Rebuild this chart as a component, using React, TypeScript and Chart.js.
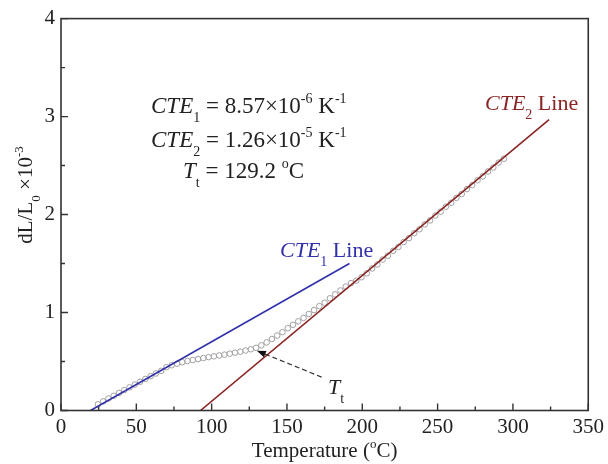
import { useEffect, useRef } from "react";
import { Chart, registerables } from "chart.js";

Chart.register(...registerables);

const SERIF = "'Liberation Serif', 'Times New Roman', serif";

// Measured dilatometry points (temperature in °C, dL/L0 ×10^-3)
const tempC = [
  24.5, 28, 31.5, 35, 38.5, 42, 45.5, 49, 52.5, 56, 59.5, 63, 66.5, 70, 73.5, 77,
  80.5, 84, 87.5, 91, 94.5, 98, 101.5, 105, 108.5, 112, 115.5, 119, 122.5, 126,
  129.5, 133, 136.5, 140, 143.5, 147, 150.5, 154, 157.5, 161, 164.5, 168, 171.5,
  175, 178.5, 182, 185.5, 189, 192.5, 196, 199.5, 203, 206.5, 210, 213.5, 217,
  220.5, 224, 227.5, 231, 234.5, 238, 241.5, 245, 248.5, 252, 255.5, 259, 262.5,
  266, 269.5, 273, 276.5, 280, 283.5, 287, 290.5, 294,
];
const dlL0 = [
  0.063, 0.093, 0.122, 0.15, 0.179, 0.208, 0.236, 0.265, 0.293, 0.322, 0.35, 0.378,
  0.405, 0.442, 0.462, 0.478, 0.493, 0.505, 0.515, 0.525, 0.535, 0.545, 0.553,
  0.562, 0.57, 0.58, 0.59, 0.6, 0.612, 0.625, 0.64, 0.665, 0.695, 0.73, 0.765, 0.8,
  0.84, 0.875, 0.91, 0.945, 0.985, 1.025, 1.065, 1.1, 1.145, 1.185, 1.225, 1.265,
  1.3, 1.325, 1.36, 1.4, 1.45, 1.49, 1.54, 1.58, 1.63, 1.67, 1.72, 1.76, 1.81, 1.85,
  1.9, 1.94, 1.99, 2.03, 2.08, 2.12, 2.17, 2.21, 2.26, 2.3, 2.35, 2.39, 2.44, 2.48,
  2.53, 2.57,
];

// Fitted lines (endpoints)
const cte1LineX = [19.6, 191.5];
const cte1LineY = [0, 1.5];
const cte2LineX = [92.6, 324];
const cte2LineY = [0, 2.97];

// Axes
const xTicks = [0, 50, 100, 150, 200, 250, 300, 350];
const xMinor = [25, 75, 125, 175, 225, 275, 325];
const yTicks = [0, 1, 2, 3, 4];
const yMinor = [0.5, 1.5, 2.5, 3.5];

// Annotation anchor points (data coordinates)
const ttArrowFrom = { x: 173, y: 0.341 };
const ttArrowTo = { x: 130, y: 0.61 };

const BLUE = "rgb(48,48,170)";
const RED = "rgb(138,36,36)";
const AXIS = "#333";
const TEXT = "#222";

type Seg = { t: string; i?: boolean; sub?: boolean; sup?: boolean };

function drawRich(
  ctx: CanvasRenderingContext2D,
  x: number,
  y: number,
  segs: Seg[],
  size: number,
  color: string,
  align: "left" | "center" = "left"
) {
  const fontFor = (s: Seg) =>
    `${s.i ? "italic " : ""}${s.sub || s.sup ? Math.round(size * 0.62) : size}px ${SERIF}`;
  let total = 0;
  for (const s of segs) {
    ctx.font = fontFor(s);
    total += ctx.measureText(s.t).width;
  }
  let cx = align === "center" ? x - total / 2 : x;
  ctx.fillStyle = color;
  ctx.textAlign = "left";
  ctx.textBaseline = "alphabetic";
  for (const s of segs) {
    ctx.font = fontFor(s);
    const dy = s.sub ? size * 0.4 : s.sup ? -size * 0.42 : 0;
    ctx.fillText(s.t, cx, y + dy);
    cx += ctx.measureText(s.t).width;
  }
}

const decorPlugin = {
  id: "decor",
  afterDraw(chart: any) {
    const ctx: CanvasRenderingContext2D = chart.ctx;
    const xs = chart.scales.x;
    const ys = chart.scales.y;
    const { left, right, top, bottom } = chart.chartArea;
    const px = (v: number) => xs.getPixelForValue(v);
    const py = (v: number) => ys.getPixelForValue(v);
    ctx.save();

    // frame
    ctx.strokeStyle = AXIS;
    ctx.lineWidth = 1.6;
    ctx.strokeRect(left, top, right - left, bottom - top);

    // inward ticks
    ctx.lineWidth = 1.4;
    ctx.beginPath();
    for (const v of xTicks) {
      ctx.moveTo(px(v), bottom);
      ctx.lineTo(px(v), bottom - 7);
    }
    for (const v of xMinor) {
      ctx.moveTo(px(v), bottom);
      ctx.lineTo(px(v), bottom - 4);
    }
    for (const v of yTicks) {
      ctx.moveTo(left, py(v));
      ctx.lineTo(left + 7, py(v));
    }
    for (const v of yMinor) {
      ctx.moveTo(left, py(v));
      ctx.lineTo(left + 4, py(v));
    }
    ctx.stroke();

    // Tt dashed arrow
    const ax0 = px(ttArrowFrom.x), ay0 = py(ttArrowFrom.y);
    const ax1 = px(ttArrowTo.x), ay1 = py(ttArrowTo.y);
    const ang = Math.atan2(ay1 - ay0, ax1 - ax0);
    const headLen = 9;
    ctx.strokeStyle = "#333";
    ctx.lineWidth = 1.2;
    ctx.setLineDash([5, 3]);
    ctx.beginPath();
    ctx.moveTo(ax0, ay0);
    ctx.lineTo(ax1 - Math.cos(ang) * headLen, ay1 - Math.sin(ang) * headLen);
    ctx.stroke();
    ctx.setLineDash([]);
    ctx.fillStyle = "#111";
    ctx.beginPath();
    ctx.moveTo(ax1, ay1);
    ctx.lineTo(
      ax1 - Math.cos(ang) * headLen + Math.sin(ang) * 3.5,
      ay1 - Math.sin(ang) * headLen - Math.cos(ang) * 3.5
    );
    ctx.lineTo(
      ax1 - Math.cos(ang) * headLen - Math.sin(ang) * 3.5,
      ay1 - Math.sin(ang) * headLen + Math.cos(ang) * 3.5
    );
    ctx.closePath();
    ctx.fill();

    // in-plot texts
    drawRich(ctx, 328, 394, [{ t: "T", i: true }, { t: "t", sub: true }], 22, TEXT);
    drawRich(ctx, 280, 257, [{ t: "CTE", i: true }, { t: "1", sub: true }, { t: " Line" }], 22, BLUE);
    drawRich(ctx, 485, 110, [{ t: "CTE", i: true }, { t: "2", sub: true }, { t: " Line" }], 22, RED);

    drawRich(
      ctx, 151, 113,
      [
        { t: "CTE", i: true }, { t: "1", sub: true }, { t: " = 8.57×10" },
        { t: "-6", sup: true }, { t: " K" }, { t: "-1", sup: true },
      ],
      23, TEXT
    );
    drawRich(
      ctx, 151, 147,
      [
        { t: "CTE", i: true }, { t: "2", sub: true }, { t: " = 1.26×10" },
        { t: "-5", sup: true }, { t: " K" }, { t: "-1", sup: true },
      ],
      23, TEXT
    );
    drawRich(
      ctx, 183, 178,
      [{ t: "T", i: true }, { t: "t", sub: true }, { t: " = 129.2 " }, { t: "o", sup: true }, { t: "C" }],
      23, TEXT
    );

    // axis titles
    drawRich(
      ctx, (left + right) / 2, 457,
      [{ t: "Temperature (" }, { t: "o", sup: true }, { t: "C)" }],
      21, TEXT, "center"
    );
    ctx.save();
    ctx.translate(32, 195);
    ctx.rotate(-Math.PI / 2);
    drawRich(
      ctx, 0, 0,
      [{ t: "dL/L" }, { t: "0", sub: true }, { t: " ×10" }, { t: "-3", sup: true }],
      21, TEXT, "center"
    );
    ctx.restore();

    ctx.restore();
  },
};

export default function App() {
  const ref = useRef<HTMLCanvasElement | null>(null);

  useEffect(() => {
    document.body.style.margin = "0";
    const canvas = ref.current;
    if (!canvas) return;

    const points = tempC.map((t, i) => ({ x: t, y: dlL0[i] }));
    const l1 = cte1LineX.map((t, i) => ({ x: t, y: cte1LineY[i] }));
    const l2 = cte2LineX.map((t, i) => ({ x: t, y: cte2LineY[i] }));

    const chart = new Chart(canvas, {
      type: "scatter",
      data: {
        datasets: [
          {
            label: "CTE2 Line",
            data: l2,
            showLine: true,
            borderColor: RED,
            borderWidth: 1.6,
            pointRadius: 0,
            order: 0,
          },
          {
            label: "CTE1 Line",
            data: l1,
            showLine: true,
            borderColor: BLUE,
            borderWidth: 1.6,
            pointRadius: 0,
            order: 1,
          },
          {
            label: "dL/L0",
            data: points,
            showLine: false,
            pointStyle: "circle",
            pointRadius: 2.8,
            pointBorderWidth: 1,
            pointBorderColor: "rgb(160,160,160)",
            pointBackgroundColor: "rgba(255,255,255,0)",
            order: 2,
          },
        ],
      },
      options: {
        responsive: false,
        animation: false,
        events: [],
        layout: { autoPadding: false, padding: { left: 0, top: 18, right: 19, bottom: 0 } } as any,
        plugins: {
          legend: { display: false },
          tooltip: { enabled: false },
        },
        scales: {
          x: {
            type: "linear",
            min: 0,
            max: 350,
            afterFit: (s: any) => {
              s.height = 53.5;
            },
            afterBuildTicks: (s: any) => {
              s.ticks = xTicks.map((v) => ({ value: v }));
            },
            grid: { display: false, drawTicks: false },
            border: { display: false },
            ticks: {
              padding: 4,
              maxRotation: 0,
              autoSkip: false,
              color: TEXT,
              font: { family: SERIF, size: 21 },
            },
          },
          y: {
            type: "linear",
            min: 0,
            max: 4,
            afterFit: (s: any) => {
              s.width = 61;
            },
            afterBuildTicks: (s: any) => {
              s.ticks = yTicks.map((v) => ({ value: v }));
            },
            grid: { display: false, drawTicks: false },
            border: { display: false },
            ticks: {
              padding: 6,
              autoSkip: false,
              color: TEXT,
              font: { family: SERIF, size: 21 },
            },
          },
        },
      },
      plugins: [decorPlugin],
    });

    return () => chart.destroy();
  }, []);

  return <canvas ref={ref} width={608} height={464} style={{ display: "block" }} />;
}
